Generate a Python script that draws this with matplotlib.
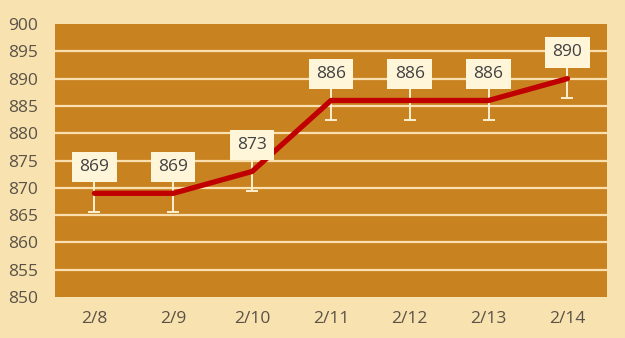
import matplotlib
matplotlib.use("Agg")
import matplotlib.pyplot as plt
import numpy as np

plt.rcParams['font.family'] = ['Open Sans', 'DejaVu Sans']

dates = ["2/8", "2/9", "2/10", "2/11", "2/12", "2/13", "2/14"]
values = [869, 869, 873, 886, 886, 886, 890]
errors = [3.5, 3.5, 3.5, 3.5, 3.5, 3.5, 3.5]
yticks = [850, 855, 860, 865, 870, 875, 880, 885, 890, 895, 900]

bg = "#F8E2B0"
plot_bg = "#C88220"
grid_c = "#F9E0AE"
line_c = "#C00000"
text_c = "#5A5246"

fig = plt.figure(figsize=(6.25, 3.38), dpi=100, facecolor=bg)
ax = fig.add_axes([0.088, 0.121, 0.883, 0.808])
ax.set_facecolor(plot_bg)

x = np.arange(len(dates))
ax.set_xlim(-0.5, len(dates) - 0.5)
ax.set_ylim(850, 900)
ax.set_yticks(yticks)
ax.set_xticks(x)
ax.set_xticklabels(dates)
for s in ax.spines.values():
    s.set_visible(False)
ax.tick_params(length=0, colors=text_c, labelsize=12.5)
ax.tick_params(axis='x', pad=10)
ax.tick_params(axis='y', pad=12)
for yv in yticks[1:-1]:
    ax.axhline(yv, color=grid_c, lw=1.6, zorder=1)

ax.errorbar(x, values, yerr=errors, fmt='none', ecolor="#FDF0D0", elinewidth=1.4,
            capsize=4.5, capthick=1.4, zorder=2)
ax.plot(x, values, color=line_c, lw=3.8, solid_capstyle='round', zorder=3)

for xi, v in zip(x, values):
    ax.annotate(str(v), (xi, v), xytext=(0, 19), textcoords='offset points',
                ha='center', va='center', fontsize=12.5, color="#404040", zorder=5,
                bbox=dict(boxstyle='square,pad=0.42', fc="#FFF6DA", ec='none'))

fig.savefig("out.png", dpi=100, facecolor=bg)
